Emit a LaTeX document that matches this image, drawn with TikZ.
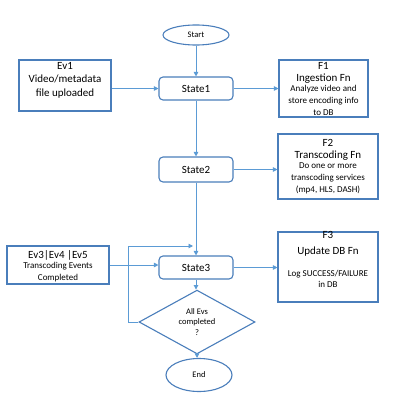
\documentclass[tikz,border=0pt]{standalone}
\usepackage{fontspec}
\setmainfont{Carlito}
\usetikzlibrary{shapes.geometric,arrows.meta}
\definecolor{bord}{HTML}{4A7EBB}
\definecolor{connc}{HTML}{5B9BD5}
\newcommand\lgf{\fontsize{11}{13.5}\selectfont}
\newcommand\smf{\fontsize{9}{11.5}\selectfont}
\newcommand\tnf{\fontsize{8.5}{10.5}\selectfont}
\begin{document}
\begin{tikzpicture}[x=1pt,y=-1pt,
 box/.style={draw=bord,line width=1.1pt,rectangle,inner sep=0},
 sbox/.style={box,rounded corners=4pt,font=\lgf},
 oval/.style={draw=bord,line width=1.1pt,ellipse,inner sep=0,font=\tnf},
 dia/.style={draw=bord,line width=1.1pt,diamond,inner sep=0,font=\tnf,align=center},
 txt/.style={align=center,inner sep=0,anchor=north},
 conn/.style={draw=connc,line width=0.9pt,-{Triangle[length=4.5pt,width=4.5pt]}},
]
\useasboundingbox[fill=white] (0,0) rectangle (404,415);

\node[oval,minimum width=66,minimum height=20] (start) at (196,35) {Start};

\node[box,minimum width=92,minimum height=51] (ev1) at (65,85.5) {};
\node[txt,font=\lgf] (ev1t) at (65,62) {Ev1\\Video/metadata\\file uploaded};

\node[sbox,minimum width=74,minimum height=23] (state1) at (196,88.5) {State1};

\node[box,minimum width=89,minimum height=57] (f1) at (323.5,88.5) {};
\node[txt] (f1t) at (323.5,62) {\lgf F1\\\lgf Ingestion Fn\\[-1.5pt]\smf Analyze video and\\\smf store encoding info\\\smf to DB};

\node[sbox,minimum width=74,minimum height=25] (state2) at (196,169.5) {State2};

\node[box,minimum width=100,minimum height=65] (f2) at (328,166.5) {};
\node[txt] (f2t) at (328,139) {\lgf F2\\\lgf Transcoding Fn\\[-1.5pt]\smf Do one or more\\\smf transcoding services\\\smf (mp4,\ HLS,\ DASH)};

\node[box,minimum width=102,minimum height=38] (ev3) at (58,265) {};
\node[txt] (ev3t) at (58,250) {\lgf Ev3|Ev4\ |Ev5\\[-1.5pt]\smf Transcoding Events\\\smf Completed};

\node[sbox,minimum width=74,minimum height=23] (state3) at (196,267.5) {State3};

\node[box,minimum width=100,minimum height=70] (f3) at (328,267) {};
\node[txt,font=\lgf] (f3t) at (328,231.5) {F3\\[2pt]Update DB Fn};
\node[txt,font=\smf] (f3b) at (328,270) {Log SUCCESS/FAILURE\\in DB};

\node[dia,minimum width=116,minimum height=37] (dia) at (197,322) {All Evs\\completed\\?};

\node[oval,minimum width=66,minimum height=33] (end) at (199,375) {End};

\coordinate (lp) at (128,246);
\coordinate (loopin) at (193,246);

\draw[conn] (start) -- (state1);
\draw[conn] (ev1.east |- state1) -- (state1.west);
\draw[conn] (state1.east) -- (state1.east -| f1.west);
\draw[conn] (state1.south) -- (state2.north);
\draw[conn] (state2.east) -- (state2.east -| f2.west);
\draw[conn] (state2.south) -- (state3.north);
\draw[conn] (ev3.east) -- (ev3.east -| state3.west);
\draw[conn] (state3.east) -- (state3.east -| f3.west);
\draw[conn] (state3.south) -- (state3.south |- dia.north);
\draw[conn] (dia.west) -| (lp) -- (loopin);
\draw[conn] (dia.south) -- (dia.south |- end.north);
\end{tikzpicture}
\end{document}
